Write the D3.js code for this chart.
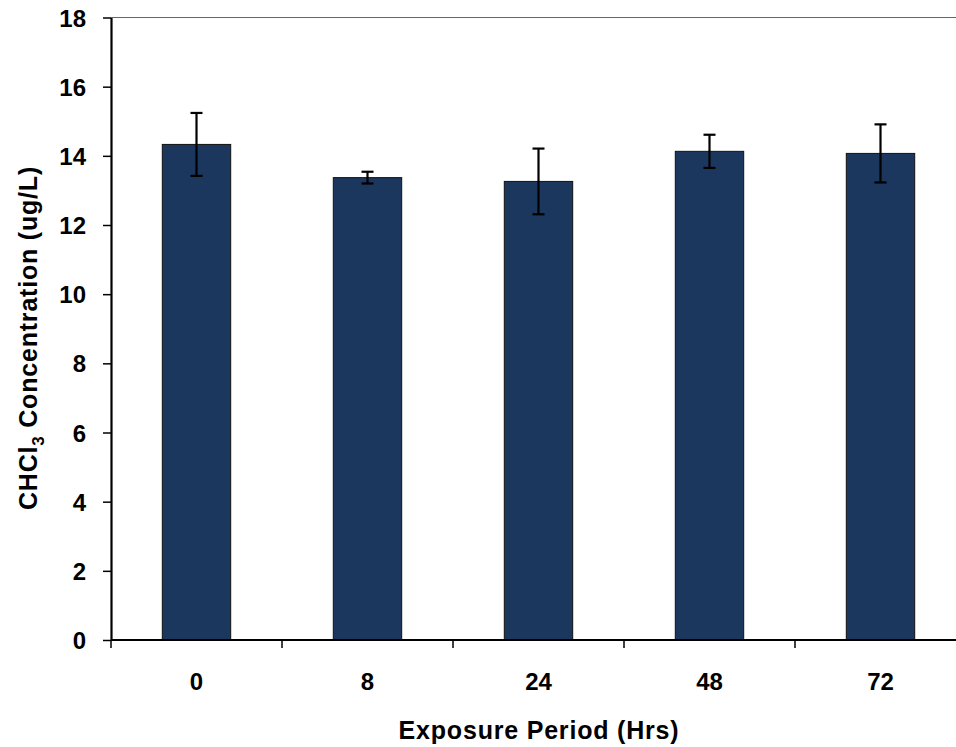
<!DOCTYPE html>
<html>
<head>
<meta charset="utf-8">
<script src="https://cdn.jsdelivr.net/npm/d3@7"></script>
<style>
  body { margin: 0; background: #fff; }
  text { font-family: "Liberation Sans", Arial, sans-serif; font-weight: bold; fill: #000; }
</style>
</head>
<body>
<div id="chart"></div>
<script>
// data
var periods = ["0", "8", "24", "48", "72"];
var conc = [14.33, 13.37, 13.26, 14.13, 14.07];
var errs = [0.91, 0.17, 0.95, 0.48, 0.84];
var yTicks = [0, 2, 4, 6, 8, 10, 12, 14, 16, 18];

var W = 956, H = 747;
var margin = {left: 111, top: 17.5, right: -10, bottom: 107};

var svg = d3.select("#chart").append("svg")
    .attr("width", W)
    .attr("height", H);

var x = d3.scaleBand()
    .domain(periods)
    .range([margin.left, W - margin.right])
    .paddingInner(0.6)
    .paddingOuter(0.3);

var xTick = d3.scaleBand()
    .domain(periods)
    .range([margin.left, W - margin.right]);

var y = d3.scaleLinear()
    .domain([0, 18])
    .range([H - margin.bottom, margin.top]);

// top border of plot area
svg.append("line")
    .attr("x1", margin.left).attr("x2", W)
    .attr("y1", y(18)).attr("y2", y(18))
    .attr("stroke", "#666").attr("stroke-width", 1.2);

// bars
svg.selectAll("rect.bar")
    .data(conc)
    .enter().append("rect")
    .attr("class", "bar")
    .attr("x", function(d, i) { return x(periods[i]); })
    .attr("width", x.bandwidth())
    .attr("y", function(d) { return y(d); })
    .attr("height", function(d) { return y(0) - y(d); })
    .attr("fill", "#1b375d")
    .attr("stroke", "#111")
    .attr("stroke-width", 1);

// error bars
var eb = svg.selectAll("g.err")
    .data(conc)
    .enter().append("g")
    .attr("class", "err")
    .attr("stroke", "#000")
    .attr("stroke-width", 2.2);

eb.append("line")
    .attr("x1", function(d, i) { return x(periods[i]) + x.bandwidth() / 2; })
    .attr("x2", function(d, i) { return x(periods[i]) + x.bandwidth() / 2; })
    .attr("y1", function(d, i) { return y(d + errs[i]); })
    .attr("y2", function(d, i) { return y(d - errs[i]); });

[1, -1].forEach(function(s) {
  eb.append("line")
      .attr("x1", function(d, i) { return x(periods[i]) + x.bandwidth() / 2 - 6; })
      .attr("x2", function(d, i) { return x(periods[i]) + x.bandwidth() / 2 + 6; })
      .attr("y1", function(d, i) { return y(d + s * errs[i]); })
      .attr("y2", function(d, i) { return y(d + s * errs[i]); });
});

// y axis
var yAxis = svg.append("g")
    .attr("transform", "translate(" + margin.left + ",0)")
    .call(d3.axisLeft(y).tickValues(yTicks).tickSize(8).tickPadding(17).tickSizeOuter(0));
yAxis.select(".domain").attr("stroke-width", 2.2).attr("stroke", "#000");
yAxis.selectAll(".tick line").attr("stroke-width", 1.5).attr("stroke", "#000");
yAxis.selectAll(".tick text").style("font-size", "24px").attr("dy", "0.36em");

// x axis, ticks at category boundaries
var xAxisG = svg.append("g")
    .attr("transform", "translate(0," + y(0) + ")");
xAxisG.append("line")
    .attr("x1", margin.left).attr("x2", W)
    .attr("stroke", "#000").attr("stroke-width", 2.2);
xAxisG.selectAll("line.tk")
    .data(periods)
    .enter().append("line")
    .attr("class", "tk")
    .attr("x1", function(d) { return xTick(d); })
    .attr("x2", function(d) { return xTick(d); })
    .attr("y1", 0).attr("y2", 8)
    .attr("stroke", "#000").attr("stroke-width", 1.5);
xAxisG.selectAll("text")
    .data(periods)
    .enter().append("text")
    .attr("x", function(d) { return x(d) + x.bandwidth() / 2; })
    .attr("y", 50)
    .attr("text-anchor", "middle")
    .style("font-size", "24px")
    .text(function(d) { return d; });

// axis titles
svg.append("text")
    .attr("x", 539)
    .attr("y", 739)
    .attr("text-anchor", "middle")
    .style("font-size", "25px")
    .style("letter-spacing", "0.8px")
    .text("Exposure Period (Hrs)");

var yt = svg.append("text")
    .attr("transform", "translate(37," + 338 + ") rotate(-90)")
    .attr("text-anchor", "middle")
    .style("font-size", "25px")
    .style("letter-spacing", "0.8px");
yt.append("tspan").text("CHCl");
yt.append("tspan").attr("dy", 7).style("font-size", "17px").text("3");
yt.append("tspan").attr("dy", -7).text(" Concentration (ug/L)");
</script>
</body>
</html>
